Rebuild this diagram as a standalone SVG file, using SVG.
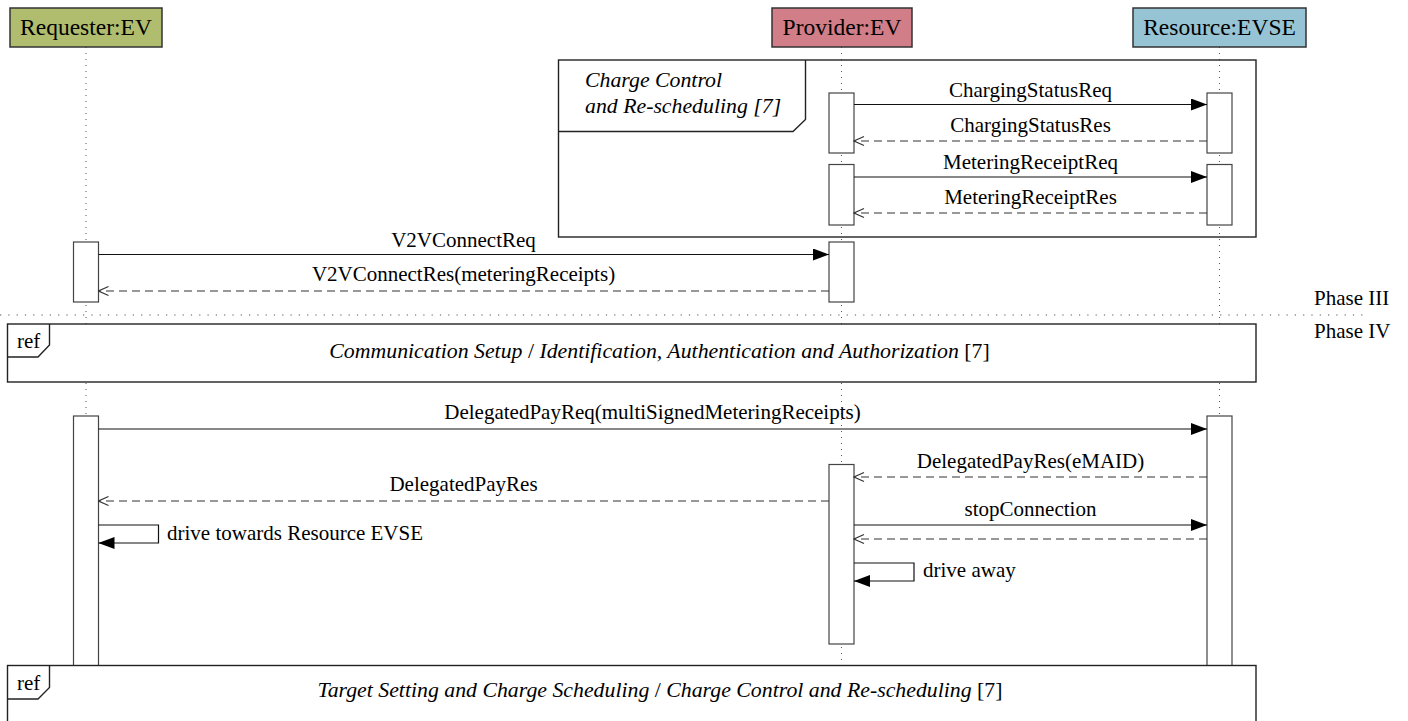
<svg xmlns="http://www.w3.org/2000/svg" width="1408" height="721" viewBox="0 0 1408 721">
<style>
text{font-family:"Liberation Serif","Times New Roman",serif;font-size:21px;fill:#000}
.hdr{font-size:23.5px}
.big{font-size:21.8px}
.it{font-style:italic}
.life{stroke:#555;stroke-width:1;stroke-dasharray:1 5;fill:none}
.phase{stroke:#555;stroke-width:1.2;stroke-dasharray:1.2 7.1;fill:none}
.act{fill:#fff;stroke:#444;stroke-width:1.2}
.frame{fill:none;stroke:#222;stroke-width:1.4}
.ref{fill:#fff;stroke:#222;stroke-width:1.4}
.sync{stroke:#111;stroke-width:1.2;fill:none;marker-end:url(#fill)}
.ret{stroke:#333;stroke-width:1.2;fill:none;stroke-dasharray:8 5;marker-end:url(#open)}
.mid{text-anchor:middle}
</style>
<defs>
<marker id="fill" viewBox="0 0 16 12" refX="16" refY="6" markerWidth="16" markerHeight="12" orient="auto" markerUnits="userSpaceOnUse"><path d="M0,0 L16,6 L0,12 z" fill="#000"/></marker>
<marker id="open" viewBox="0 0 12 10" refX="11" refY="5" markerWidth="12" markerHeight="10" orient="auto" markerUnits="userSpaceOnUse"><path d="M1,0.5 L11,5 L1,9.5" fill="none" stroke="#333" stroke-width="1.1" stroke-dasharray="none"/></marker>
</defs>
<rect width="1408" height="721" fill="#fff"/>

<g id="lifelines">
<line class="life" x1="86" y1="47" x2="86" y2="665"/>
<line class="life" x1="841.5" y1="47" x2="841.5" y2="665"/>
<line class="life" x1="1219.5" y1="47" x2="1219.5" y2="665"/>
</g>

<g id="phase-separator">
<line class="phase" x1="0" y1="315" x2="1368" y2="315"/>
<text x="1314" y="305">Phase III</text>
<text x="1314" y="338">Phase IV</text>
</g>

<g id="requester">
<rect x="10" y="8" width="152" height="39" fill="#b1bd6e" stroke="#333" stroke-width="1.5"/>
<text class="hdr mid" x="86" y="35">Requester:EV</text>
</g>
<g id="provider">
<rect x="772" y="8" width="140" height="39" fill="#d17e89" stroke="#333" stroke-width="1.5"/>
<text class="hdr mid" x="842" y="35">Provider:EV</text>
</g>
<g id="resource">
<rect x="1133" y="8" width="173" height="39" fill="#97c4d4" stroke="#333" stroke-width="1.5"/>
<text class="hdr mid" x="1219.5" y="35">Resource:EVSE</text>
</g>

<g id="frame-charge-control">
<rect class="frame" x="558.5" y="60" width="697.5" height="177"/>
<path class="frame" d="M558.5,131.5 H793 L805.5,119.5 V60"/>
<text class="it big" x="585" y="87">Charge Control</text>
<text class="it big" x="585" y="113">and Re-scheduling [7]</text>
</g>

<g id="activations">
<rect class="act" x="829" y="93" width="25" height="60"/>
<rect class="act" x="1207" y="93" width="25" height="60"/>
<rect class="act" x="829" y="164.5" width="25" height="60.5"/>
<rect class="act" x="1207" y="164.5" width="25" height="60.5"/>
<rect class="act" x="73.5" y="242" width="25" height="60"/>
<rect class="act" x="829" y="242" width="25" height="60"/>
<rect class="act" x="73.5" y="416" width="25" height="250"/>
<rect class="act" x="1207" y="416" width="25" height="250"/>
<rect class="act" x="829" y="464.5" width="25" height="179.5"/>
</g>

<g id="ref-communication-setup">
<rect class="ref" x="7.5" y="324" width="1248.5" height="58"/>
<path class="frame" d="M7.5,357 H38 L49.5,345 V324"/>
<text x="17" y="348">ref</text>
<text class="mid big" x="659.5" y="358"><tspan class="it">Communication Setup</tspan> / <tspan class="it">Identification, Authentication and Authorization</tspan> [7]</text>
</g>

<g id="ref-target-setting">
<rect class="ref" x="7.5" y="665.5" width="1248.5" height="70"/>
<path class="frame" d="M7.5,699 H38 L49.5,687.5 V665.5"/>
<text x="17" y="690">ref</text>
<text class="mid big" x="660" y="697"><tspan class="it">Target Setting and Charge Scheduling</tspan> / <tspan class="it">Charge Control and Re-scheduling</tspan> [7]</text>
</g>

<g id="connectors">
<line class="sync" x1="854" y1="104.5" x2="1207" y2="104.5"/>
<line class="ret" x1="1207" y1="141" x2="854" y2="141"/>
<line class="sync" x1="854" y1="177" x2="1207" y2="177"/>
<line class="ret" x1="1207" y1="213" x2="854" y2="213"/>
<line class="sync" x1="98.5" y1="254.5" x2="829" y2="254.5"/>
<line class="ret" x1="829" y1="291" x2="98.5" y2="291"/>
<line class="sync" x1="98.5" y1="429" x2="1207" y2="429"/>
<line class="ret" x1="1207" y1="477" x2="854" y2="477"/>
<line class="ret" x1="829" y1="501" x2="98.5" y2="501"/>
<line class="sync" x1="854" y1="525" x2="1207" y2="525"/>
<line class="ret" x1="1207" y1="539" x2="854" y2="539"/>
<path class="sync" d="M98.5,525 H158.5 V543 H98.5"/>
<path class="sync" d="M854,563 H914 V581 H854"/>
</g>

<g id="connector-labels">
<text class="mid" x="1030.5" y="97">ChargingStatusReq</text>
<text class="mid" x="1030.5" y="132">ChargingStatusRes</text>
<text class="mid" x="1030.5" y="169">MeteringReceiptReq</text>
<text class="mid" x="1030.5" y="204">MeteringReceiptRes</text>
<text class="mid" x="463.5" y="247">V2VConnectReq</text>
<text class="mid" x="463.5" y="281">V2VConnectRes(meteringReceipts)</text>
<text class="mid" x="652.5" y="419">DelegatedPayReq(multiSignedMeteringReceipts)</text>
<text class="mid" x="1030.5" y="468">DelegatedPayRes(eMAID)</text>
<text class="mid" x="463.5" y="491">DelegatedPayRes</text>
<text class="mid" x="1030.5" y="516">stopConnection</text>
<text x="167" y="540">drive towards Resource EVSE</text>
<text x="923" y="577">drive away</text>
</g>
</svg>
